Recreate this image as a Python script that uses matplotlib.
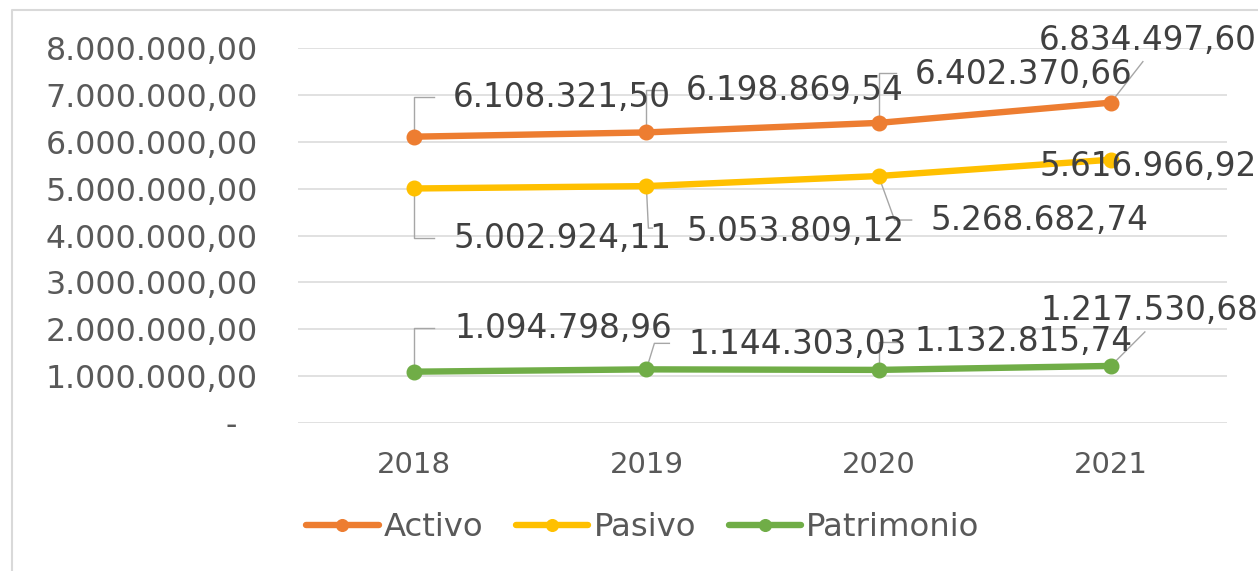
import matplotlib
matplotlib.use("Agg")
import matplotlib.pyplot as plt
from matplotlib.lines import Line2D
from matplotlib.ticker import FuncFormatter

# ---------------- data ----------------
years = ["2018", "2019", "2020", "2021"]
activo = [6108321.50, 6198869.54, 6402370.66, 6834497.60]
pasivo = [5002924.11, 5053809.12, 5268682.74, 5616966.92]
patrimonio = [1094798.96, 1144303.03, 1132815.74, 1217530.68]
series_names = ["Activo", "Pasivo", "Patrimonio"]

# ---------------- style / layout ----------------
colors = ["#ED7D31", "#FFC000", "#70AD47"]
W, H, DPI = 1258, 571, 100
AX_L, AX_R, AX_T, AX_B = 298, 1227, 48, 423   # pixel box of plot area
YMAX = 8e6

# label centre offsets from the point (pixels, y downward)
label_offsets = [
    [(148, -39), (148, -42), (145, -48), (37, -62)],
    [(148, 50), (149, 45), (161, 44), (37, 7)],
    [(149, -43), (151, -25), (145, -28), (39, -55)],
]
# leader line polylines (pixels, y downward, relative to the point)
leaders = [
    [[(0, 0), (0, -40), (20, -40)], [(0, 0), (0, -42), (18, -42)],
     [(0, 0), (0, -50), (17, -50)], [(0, 0), (32, -41)]],
    [[(0, 0), (0, 50), (20, 50)], [(0, 0), (2, 42), (6, 42)],
     [(0, 0), (16, 44), (33, 44)], None],
    [[(0, 0), (0, -44), (20, -44)], [(0, 0), (8, -26), (23, -26)],
     [(0, 0), (0, -28), (19, -28)], [(0, 0), (34, -34)]],
]

plt.rcParams["font.family"] = ["DejaVu Sans"]

fig = plt.figure(figsize=(W / DPI, H / DPI), dpi=DPI)
ax = fig.add_axes([AX_L / W, 1 - AX_B / H, (AX_R - AX_L) / W, (AX_B - AX_T) / H])

px_x = (AX_R - AX_L) / 4.0           # pixels per category
px_y = (AX_B - AX_T) / YMAX          # pixels per unit value


def fmt_es(v):
    s = f"{v:,.2f}"
    return s.replace(",", "X").replace(".", ",").replace("X", ".")


def ytick(v, pos):
    if abs(v) < 1e-6:
        return "-  "
    return fmt_es(v)


x = list(range(len(years)))
all_series = [activo, pasivo, patrimonio]

for si, (vals, name, col) in enumerate(zip(all_series, series_names, colors)):
    ax.plot(x, vals, color=col, lw=4.6, marker="o", ms=10.5, solid_capstyle="round",
            label=name, zorder=4)
    for i, v in enumerate(vals):
        dx, dy = label_offsets[si][i]
        ax.text(i + dx / px_x, v - dy / px_y, fmt_es(v), ha="center", va="center",
                fontsize=23.5, color="#404040", zorder=6, clip_on=False)
        pl = leaders[si][i]
        if pl:
            xs = [i + p[0] / px_x for p in pl]
            ys = [v - p[1] / px_y for p in pl]
            ax.plot(xs, ys, color="#A6A6A6", lw=1.0, zorder=3, clip_on=False)

ax.set_xlim(-0.5, 3.5)
ax.set_ylim(0, YMAX)
ax.set_yticks([i * 1e6 for i in range(9)])
ax.yaxis.set_major_formatter(FuncFormatter(ytick))
ax.set_xticks(x)
ax.set_xticklabels(years)
ax.grid(axis="y", color="#D9D9D9", lw=1.1)
ax.set_axisbelow(True)
for sp in ax.spines.values():
    sp.set_visible(False)
ax.tick_params(axis="both", length=0, labelcolor="#595959")
ax.tick_params(axis="y", pad=29, labelsize=22.8)
ax.tick_params(axis="x", pad=20, labelsize=21)

leg = fig.legend(loc="center", bbox_to_anchor=(643 / W, 1 - 528 / H), ncol=3,
                 frameon=False, fontsize=23.3, handlelength=2.23, handletextpad=0.17,
                 columnspacing=1.0, borderpad=0, markerscale=0.8)
for t in leg.get_texts():
    t.set_color("#595959")

# chart border (left and top visible)
fig.add_artist(Line2D([12 / W, 12 / W, 1.0], [0.0, 1 - 10 / H, 1 - 10 / H],
                      transform=fig.transFigure, color="#D9D9D9", lw=1.5))

fig.savefig("out.png", dpi=DPI)
